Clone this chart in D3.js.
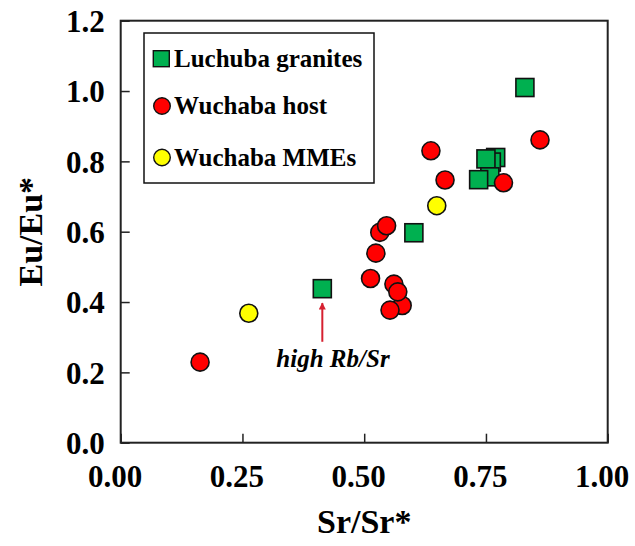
<!DOCTYPE html>
<html>
<head>
<meta charset="utf-8">
<script src="https://cdn.jsdelivr.net/npm/d3@7/dist/d3.min.js"></script>
<style>
  html, body { margin: 0; padding: 0; background: #fff; }
  svg text { font-family: "Liberation Serif", "Times New Roman", serif; font-weight: bold; fill: #000; }
</style>
</head>
<body>
<svg id="chart" width="635" height="546"></svg>
<script>
// Sr/Sr* vs Eu/Eu* for the three sample groups
const luchubaGranites = [
  [0.83, 1.01], [0.770, 0.811], [0.761, 0.798], [0.750, 0.807],
  [0.758, 0.756], [0.735, 0.748], [0.602, 0.597], [0.414, 0.438]
];
const wuchabaHost = [
  [0.163, 0.229], [0.637, 0.830], [0.666, 0.747], [0.861, 0.861],
  [0.786, 0.739], [0.532, 0.598], [0.546, 0.617], [0.524, 0.539],
  [0.513, 0.467], [0.561, 0.451], [0.578, 0.390], [0.569, 0.429],
  [0.553, 0.377]
];
const wuchabaMMEs = [
  [0.263, 0.368], [0.649, 0.674]
];
const xTicks = [0, 0.25, 0.5, 0.75, 1.0];
const yTicks = [0, 0.2, 0.4, 0.6, 0.8, 1.0, 1.2];
const seriesNames = ["Luchuba granites", "Wuchaba host", "Wuchaba MMEs"];
const seriesColors = ["#00b050", "#ff0000", "#ffff00"];
const annotationText = "high Rb/Sr";
const annotationArrow = { x: 0.414, from: 0.287, to: 0.397 };

const svg = d3.select("#chart");
const plot = { left: 120.7, right: 607.7, top: 20.7, bottom: 442.7 };

const x = d3.scaleLinear().domain([0, 1]).range([plot.left, plot.right]);
const y = d3.scaleLinear().domain([0, 1.2]).range([plot.bottom, plot.top]);

// axes with inward ticks
const xAxis = d3.axisBottom(x).tickValues(xTicks).tickFormat(d3.format(".2f"))
  .tickSizeInner(-9).tickSizeOuter(0).tickPadding(22);
const yAxis = d3.axisLeft(y).tickValues(yTicks).tickFormat(d3.format(".1f"))
  .tickSizeInner(-9).tickSizeOuter(0).tickPadding(16);

const gx = svg.append("g").attr("transform", `translate(0,${plot.bottom})`).call(xAxis);
const gy = svg.append("g").attr("transform", `translate(${plot.left},0)`).call(yAxis);
[gx, gy].forEach(g => {
  g.select(".domain").remove();
  g.selectAll(".tick line").attr("stroke", "#222").attr("stroke-width", 1.5);
  g.selectAll(".tick text").style("font-size", "31px");
});
gx.selectAll(".tick text").attr("dx", -6);
gy.selectAll(".tick text").attr("dy", "0.35em");

// frame
svg.append("rect")
  .attr("x", plot.left).attr("y", plot.top)
  .attr("width", plot.right - plot.left).attr("height", plot.bottom - plot.top)
  .attr("fill", "none").attr("stroke", "#222").attr("stroke-width", 2);

// axis titles
svg.append("text")
  .attr("x", (plot.left + plot.right) / 2).attr("y", 533)
  .attr("text-anchor", "middle").style("font-size", "34px")
  .text("Sr/Sr*");
svg.append("text")
  .attr("transform", `translate(42,${(plot.top + plot.bottom) / 2}) rotate(-90)`)
  .attr("text-anchor", "middle").style("font-size", "34px")
  .text("Eu/Eu*");

// markers
const sq = 18, r = 9;
svg.append("g").selectAll("rect").data(luchubaGranites).join("rect")
  .attr("x", d => x(d[0]) - sq / 2).attr("y", d => y(d[1]) - sq / 2)
  .attr("width", sq).attr("height", sq)
  .attr("fill", seriesColors[0]).attr("stroke", "#111").attr("stroke-width", 1.6);
svg.append("g").selectAll("circle").data(wuchabaHost).join("circle")
  .attr("cx", d => x(d[0])).attr("cy", d => y(d[1])).attr("r", r)
  .attr("fill", seriesColors[1]).attr("stroke", "#111").attr("stroke-width", 1.6);
svg.append("g").selectAll("circle").data(wuchabaMMEs).join("circle")
  .attr("cx", d => x(d[0])).attr("cy", d => y(d[1])).attr("r", r)
  .attr("fill", seriesColors[2]).attr("stroke", "#111").attr("stroke-width", 1.6);

// annotation arrow and label
const arrowColor = "#d62030";
svg.append("defs").append("marker")
  .attr("id", "head").attr("viewBox", "0 0 10 10")
  .attr("refX", 9).attr("refY", 5)
  .attr("markerWidth", 5.5).attr("markerHeight", 3.5)
  .attr("orient", "auto")
  .append("path").attr("d", "M0,0 L10,5 L0,10 z").attr("fill", arrowColor);
svg.append("line")
  .attr("x1", x(annotationArrow.x)).attr("y1", y(annotationArrow.from))
  .attr("x2", x(annotationArrow.x)).attr("y2", y(annotationArrow.to))
  .attr("stroke", arrowColor).attr("stroke-width", 2)
  .attr("marker-end", "url(#head)");
svg.append("text")
  .attr("x", 333).attr("y", 367)
  .attr("text-anchor", "middle").style("font-size", "25px").style("font-style", "italic")
  .text(annotationText);

// legend
const legend = svg.append("g");
legend.append("rect")
  .attr("x", 144).attr("y", 33).attr("width", 230).attr("height", 150)
  .attr("fill", "#fff").attr("stroke", "#111").attr("stroke-width", 1.5);
const rows = [58.7, 106, 157.5];
seriesNames.forEach((name, i) => {
  const cy = rows[i];
  if (i === 0) {
    legend.append("rect")
      .attr("x", 161.3 - 8).attr("y", cy - 8).attr("width", 16).attr("height", 16)
      .attr("fill", seriesColors[i]).attr("stroke", "#111").attr("stroke-width", 1.4);
  } else {
    legend.append("circle")
      .attr("cx", 162).attr("cy", cy).attr("r", 8.3)
      .attr("fill", seriesColors[i]).attr("stroke", "#111").attr("stroke-width", 1.4);
  }
  legend.append("text")
    .attr("x", 174).attr("y", cy + 8)
    .style("font-size", "25px")
    .text(name);
});
</script>
</body>
</html>
